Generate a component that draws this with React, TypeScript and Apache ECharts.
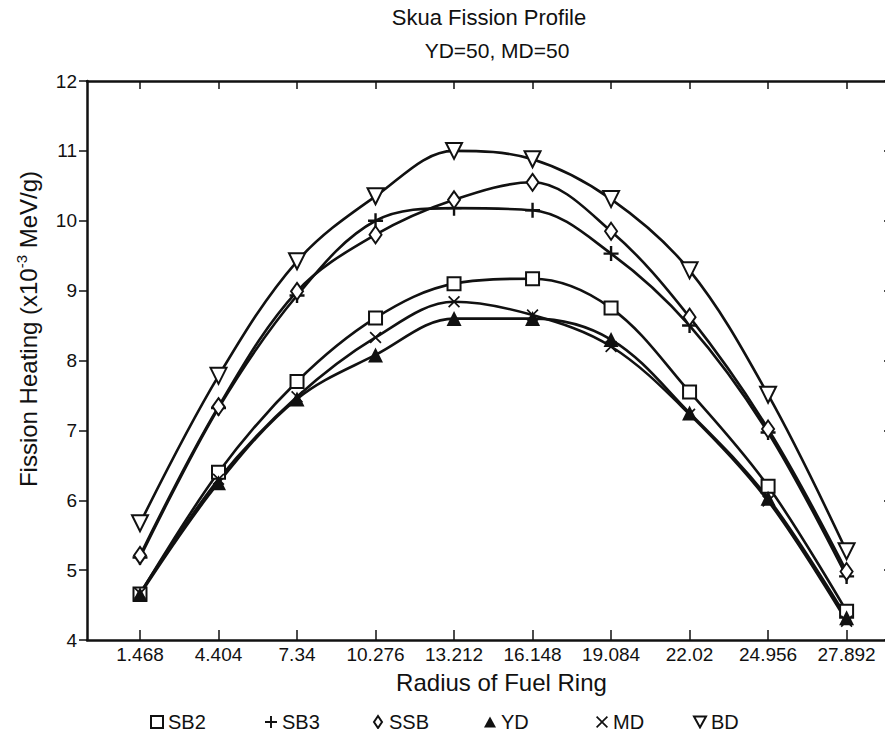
import React, { useEffect, useRef } from "react";
import * as echarts from "echarts";

const radii = [1.468, 4.404, 7.34, 10.276, 13.212, 16.148, 19.084, 22.02, 24.956, 27.892];
const sb2 = [4.66, 6.4, 7.7, 8.61, 9.1, 9.17, 8.75, 7.55, 6.2, 4.41];
const sb3 = [5.18, 7.32, 8.93, 10.0, 10.18, 10.15, 9.53, 8.5, 6.97, 4.91];
const ssb = [5.21, 7.34, 8.99, 9.8, 10.3, 10.55, 9.85, 8.62, 7.02, 4.98];
const yd = [4.65, 6.25, 7.45, 8.08, 8.6, 8.6, 8.3, 7.25, 6.03, 4.32];
const md = [4.67, 6.3, 7.48, 8.33, 8.84, 8.65, 8.2, 7.23, 5.99, 4.27];
const bd = [5.67, 7.78, 9.42, 10.35, 11.0, 10.88, 10.31, 9.29, 7.51, 5.27];
const seriesNames = ["SB2", "SB3", "SSB", "YD", "MD", "BD"];
const yTicks = [4, 5, 6, 7, 8, 9, 10, 11, 12];

const FONT = "'Liberation Sans', Arial, Helvetica, sans-serif";
const INK = "#111111";

const PLUS = "path://M4.2,0H5.8V4.2H10V5.8H5.8V10H4.2V5.8H0V4.2H4.2Z";
const CROSS = "path://M1,0L5,4L9,0L10,1L6,5L10,9L9,10L5,6L1,10L0,9L4,5L0,1Z";
const DOWN_TRI = "path://M0,0L10,0L5,9Z";
const UP_TRI = "path://M5,0L10,9L0,9Z";
const SQUARE = "path://M0,0H10V10H0Z";
const DIAMOND = "path://M5,0L9,6L5,12L1,6Z";
const legendLefts = [150, 265, 373, 484, 596, 693];

export default function App() {
  const ref = useRef<HTMLDivElement>(null);
  useEffect(() => {
    if (!ref.current) return;
    const chart = echarts.init(ref.current, undefined, { renderer: "svg" });
    const pairs = (arr: number[]) => arr.map((v, i) => [radii[i], v]);
    const hollow = { color: "#fff", borderColor: INK, borderWidth: 2 };
    const solid = { color: INK, borderColor: INK, borderWidth: 0 };
    const mk = (name: string, arr: number[], symbol: string, size: any, itemStyle: any, rotate = 0) => ({
      name,
      type: "line",
      data: pairs(arr),
      smooth: 0.35,
      symbol,
      symbolSize: size,
      symbolRotate: rotate,
      symbolKeepAspect: true,
      showAllSymbol: true,
      itemStyle,
      lineStyle: { color: INK, width: 2.6 },
      emphasis: { disabled: true },
      z: 3,
    });
    const series = [
      mk(seriesNames[0], sb2, "rect", 13, hollow),
      mk(seriesNames[1], sb3, PLUS, 15, solid),
      mk(seriesNames[2], ssb, "diamond", [12, 17], hollow),
      mk(seriesNames[3], yd, "triangle", 15, solid),
      mk(seriesNames[4], md, CROSS, 12, solid),
      mk(seriesNames[5], bd, "triangle", 16, hollow, 180),
    ];
    const legendIcons = [SQUARE, PLUS, DIAMOND, UP_TRI, CROSS, DOWN_TRI];
    const legends = seriesNames.map((n, i) => ({
      left: legendLefts[i],
      top: 712,
      padding: 0,
      itemWidth: 12,
      itemHeight: 12,
      itemGap: 0,
      selectedMode: false,
      data: [{ name: n, icon: legendIcons[i] }],
      textStyle: { fontFamily: FONT, fontSize: 20, color: INK },
    }));
    const option: any = {
      animation: false,
      backgroundColor: "#fff",
      title: [
        {
          text: "Skua Fission Profile",
          left: 489,
          top: 6,
          textAlign: "center",
          padding: 0,
          textStyle: { fontFamily: FONT, fontSize: 22, fontWeight: "normal", color: INK },
        },
        {
          text: "YD=50, MD=50",
          left: 497,
          top: 40,
          textAlign: "center",
          padding: 0,
          textStyle: { fontFamily: FONT, fontSize: 21, fontWeight: "normal", color: INK },
        },
      ],
      legend: legends,
      grid: { left: 87, right: 1, top: 81, bottom: 97, containLabel: false },
      xAxis: [
        {
          type: "value",
          min: -0.514,
          max: 29.59,
          position: "bottom",
          name: "Radius of Fuel Ring",
          nameLocation: "middle",
          nameGap: 30,
          nameTextStyle: { fontFamily: FONT, fontSize: 24, color: INK, padding: [0, 0, 0, 24] },
          axisLine: { show: true, onZero: false, lineStyle: { color: INK, width: 2.5 } },
          axisTick: { show: true, inside: true, length: 10, customValues: radii, lineStyle: { color: INK, width: 1.5 } },
          axisLabel: { customValues: radii, fontFamily: FONT, fontSize: 19, color: INK, margin: 5 },
          splitLine: { show: false },
        },
        {
          type: "value",
          min: -0.514,
          max: 29.59,
          position: "top",
          axisLine: { show: true, onZero: false, lineStyle: { color: INK, width: 2.5 } },
          axisTick: { show: true, inside: true, length: 8, customValues: radii, lineStyle: { color: INK, width: 1.5 } },
          axisLabel: { show: false },
          splitLine: { show: false },
        },
      ],
      yAxis: [
        {
          type: "value",
          min: 4,
          max: 12,
          interval: 1,
          position: "left",
          axisLine: { show: true, onZero: false, lineStyle: { color: INK, width: 2.5 } },
          axisTick: { show: true, inside: false, length: 8, lineStyle: { color: INK, width: 1.5 } },
          axisLabel: {
            fontFamily: FONT,
            fontSize: 19,
            color: INK,
            margin: 10,
            formatter: (v: number) => (yTicks.includes(v) ? String(v) : ""),
          },
          splitLine: { show: false },
        },
        {
          type: "value",
          min: 4,
          max: 12,
          interval: 1,
          position: "right",
          axisLine: { show: true, onZero: false, lineStyle: { color: INK, width: 2.5 } },
          axisTick: { show: true, inside: true, length: 8, lineStyle: { color: INK, width: 1.5 } },
          axisLabel: { show: false },
          splitLine: { show: false },
        },
      ],
      graphic: [
        {
          type: "text",
          x: 28,
          y: 329,
          rotation: Math.PI / 2,
          style: {
            text: "{m|Fission Heating (x10}{s|-3}{m| MeV/g)}",
            align: "center",
            verticalAlign: "middle",
            fill: INK,
            rich: {
              m: { fontFamily: FONT, fontSize: 24, lineHeight: 28, fill: INK },
              s: { fontFamily: FONT, fontSize: 15, lineHeight: 15, verticalAlign: "top", fill: INK },
            },
          },
        },
      ],
      series,
    };
    chart.setOption(option);
    return () => chart.dispose();
  }, []);
  return <div ref={ref} style={{ width: 893, height: 737, margin: -8 }} />;
}
